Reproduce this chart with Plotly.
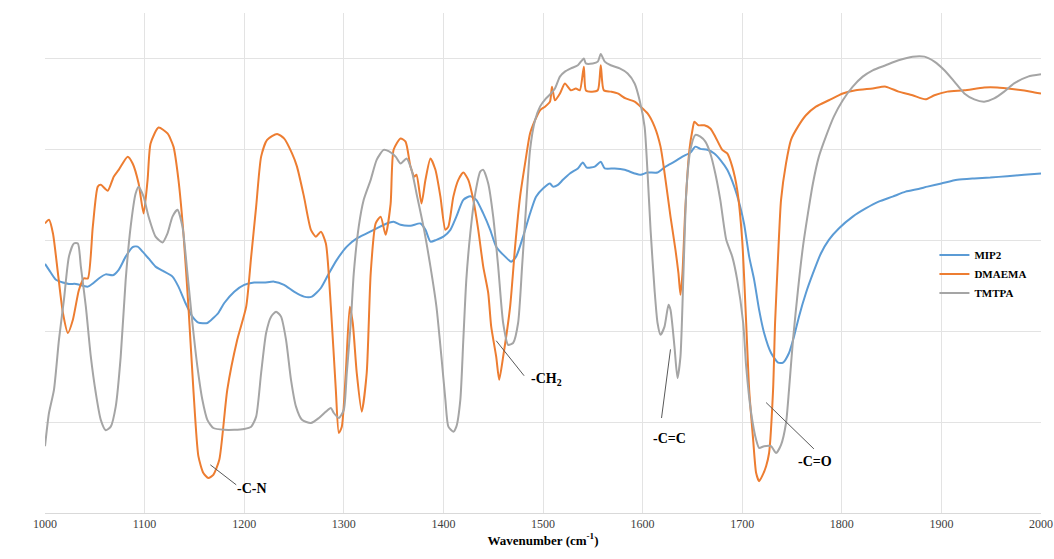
import plotly.graph_objects as go

# FTIR spectra (wavenumber in cm-1, transmittance in arbitrary %T units)
mip2_x = [1000, 1004, 1011, 1018, 1024, 1031, 1038, 1043, 1048, 1054, 1061, 1068, 1074, 1081, 1088,
          1093, 1098, 1104, 1111, 1118, 1128, 1134, 1141, 1148, 1154, 1163, 1169, 1174, 1180, 1190,
          1200, 1210, 1220, 1230, 1240, 1250, 1260, 1268, 1277, 1285, 1293, 1303, 1313, 1323, 1333,
          1343, 1350, 1357, 1367, 1377, 1382, 1387, 1393, 1400, 1407, 1413, 1420, 1427, 1433, 1440,
          1447, 1453, 1462, 1468, 1473, 1480, 1487, 1493, 1500, 1507, 1510, 1515, 1520, 1527, 1535,
          1540, 1544, 1552, 1558, 1562, 1572, 1582, 1592, 1598, 1605, 1615, 1623, 1632, 1640, 1648,
          1653, 1658, 1665, 1672, 1678, 1685, 1692, 1698, 1702, 1707, 1712, 1717, 1722, 1729, 1736,
          1741, 1747, 1752, 1757, 1764, 1771, 1779, 1787, 1797, 1811, 1824, 1837, 1851, 1864, 1877,
          1886, 1900, 1916, 1933, 1949, 1966, 1983, 2000]
mip2_y = [54.8, 53.5, 51.3, 50.7, 50.4, 50.4, 50.0, 49.8, 50.5, 51.6, 52.5, 52.3, 53.5, 56.4, 58.5,
          58.6, 57.5, 56.0, 54.2, 53.3, 52.0, 49.8, 46.2, 43.2, 41.9, 41.8, 42.9, 44.0, 46.2, 48.7,
          50.2, 50.7, 50.7, 50.9, 50.2, 48.7, 47.6, 47.6, 49.5, 52.7, 55.7, 58.6, 60.4, 61.5, 62.6,
          63.7, 64.1, 63.4, 63.2, 63.7, 62.3, 59.7, 60.1, 60.8, 62.3, 65.2, 68.9, 69.7, 68.9, 65.9,
          62.3, 58.6, 56.4, 55.3, 56.4, 60.8, 65.9, 69.6, 71.4, 72.5, 71.8, 72.2, 73.3, 74.7, 75.8,
          77.1, 76.0, 76.2, 77.3, 75.8, 75.8, 75.5, 74.7, 74.4, 74.9, 74.9, 76.2, 77.3, 78.4, 79.3,
          80.6, 80.1, 79.9, 79.1, 77.7, 75.5, 71.8, 67.4, 63.5, 56.4, 51.3, 44.7, 39.6, 35.2, 33.1,
          33.1, 35.2, 38.8, 43.2, 48.4, 52.7, 57.1, 60.1, 62.6, 65.2, 67.0, 68.5, 69.6, 70.7, 71.3,
          71.8, 72.5, 73.3, 73.6, 73.8, 74.1, 74.4, 74.7]

dmaema_x = [1000, 1004, 1008, 1013, 1018, 1023, 1028, 1034, 1039, 1043, 1048, 1053, 1056, 1063, 1069,
            1074, 1083, 1088, 1094, 1099, 1103, 1106, 1114, 1123, 1129, 1134, 1139, 1144, 1149, 1154,
            1159, 1164, 1169, 1175, 1183, 1193, 1202, 1207, 1212, 1217, 1223, 1233, 1240, 1248, 1253,
            1260, 1267, 1272, 1277, 1282, 1287, 1292, 1295, 1298, 1302, 1306, 1309, 1313, 1318, 1323,
            1327, 1332, 1337, 1342, 1347, 1350, 1357, 1362, 1367, 1371, 1373, 1378, 1382, 1387, 1392,
            1397, 1402, 1405, 1410, 1415, 1420, 1425, 1430, 1435, 1440, 1445, 1448, 1453, 1456, 1460,
            1467, 1472, 1477, 1482, 1487, 1492, 1497, 1502, 1507, 1509, 1512, 1517, 1522, 1528, 1533,
            1537, 1541, 1543, 1548, 1555, 1558, 1561, 1568, 1575, 1583, 1592, 1598, 1605, 1612, 1618,
            1623, 1628, 1633, 1636, 1638, 1640, 1643, 1647, 1650, 1652, 1656, 1662, 1668, 1673, 1680,
            1685, 1690, 1695, 1700, 1704, 1707, 1711, 1714, 1717, 1720, 1724, 1727, 1731, 1733, 1736,
            1739, 1744, 1749, 1756, 1764, 1774, 1787, 1801, 1814, 1831, 1844, 1857, 1871, 1884, 1893,
            1906, 1923, 1943, 1956, 1973, 1990, 2000]
dmaema_y = [63.7, 64.5, 61.5, 52.7, 44.0, 39.6, 42.5, 49.0, 51.6, 51.6, 63.0, 71.8, 72.2, 70.9, 74.0,
            75.5, 78.4, 76.9, 72.5, 65.9, 73.3, 81.3, 84.8, 83.5, 80.6, 73.3, 61.5, 45.4, 27.1, 12.5,
            8.8, 7.7, 8.4, 11.7, 27.1, 38.1, 45.4, 56.4, 67.4, 78.4, 82.1, 83.4, 82.4, 79.1, 76.2,
            69.6, 62.3, 60.8, 61.9, 59.3, 45.4, 27.1, 17.6, 19.0, 30.8, 45.4, 41.8, 30.8, 22.3, 30.8,
            52.7, 63.7, 65.2, 61.2, 68.0, 79.9, 82.4, 81.7, 76.2, 74.0, 74.4, 68.1, 73.3, 78.0, 75.5,
            69.6, 62.3, 63.0, 69.6, 73.3, 74.9, 73.3, 68.9, 62.3, 54.2, 48.4, 41.0, 34.4, 29.3, 34.4,
            45.4, 58.6, 69.6, 76.9, 83.5, 86.4, 88.6, 89.4, 90.5, 93.8, 90.8, 92.3, 94.5, 93.0, 93.4,
            93.0, 98.2, 93.0, 92.7, 93.0, 98.5, 93.0, 92.7, 92.3, 91.2, 90.5, 89.4, 87.9, 85.0, 80.6,
            73.3, 65.2, 57.9, 52.7, 48.0, 52.7, 67.4, 79.9, 84.2, 86.1, 85.3, 85.3, 84.6, 82.8, 79.9,
            79.1, 76.2, 71.1, 60.0, 41.8, 27.1, 16.1, 8.8, 7.0, 8.1, 10.3, 13.2, 27.1, 41.8, 56.4,
            68.9, 76.9, 82.1, 85.0, 87.5, 89.4, 90.8, 92.3, 93.0, 93.4, 93.8, 92.7, 91.9, 91.0, 91.9,
            92.7, 93.0, 93.6, 93.6, 93.2, 92.7, 92.3]

tmtpa_x = [1000, 1004, 1009, 1014, 1019, 1024, 1029, 1033, 1036, 1041, 1046, 1051, 1056, 1061, 1066,
           1071, 1076, 1081, 1086, 1091, 1094, 1099, 1104, 1111, 1118, 1123, 1128, 1133, 1138, 1143,
           1148, 1153, 1158, 1163, 1169, 1180, 1190, 1200, 1207, 1212, 1217, 1222, 1227, 1232, 1237,
           1242, 1247, 1252, 1258, 1267, 1275, 1282, 1287, 1290, 1295, 1300, 1303, 1307, 1310, 1315,
           1320, 1327, 1333, 1340, 1345, 1352, 1357, 1363, 1368, 1373, 1380, 1387, 1393, 1398, 1402,
           1405, 1410, 1413, 1417, 1420, 1423, 1427, 1432, 1437, 1440, 1445, 1450, 1455, 1460, 1465,
           1470, 1475, 1479, 1483, 1487, 1492, 1497, 1503, 1508, 1512, 1517, 1522, 1528, 1535, 1541,
           1543, 1550, 1555, 1558, 1562, 1568, 1577, 1585, 1592, 1597, 1602, 1605, 1608, 1612, 1615,
           1618, 1622, 1626, 1628, 1632, 1635, 1638, 1641, 1644, 1648, 1653, 1658, 1663, 1668, 1673,
           1678, 1684, 1690, 1695, 1701, 1704, 1709, 1714, 1717, 1722, 1729, 1734, 1739, 1744, 1747,
           1751, 1756, 1761, 1766, 1771, 1777, 1784, 1792, 1801, 1811, 1821, 1831, 1844, 1857, 1871,
           1883, 1893, 1903, 1913, 1923, 1933, 1943, 1953, 1963, 1973, 1987, 2000]
tmtpa_y = [14.7, 22.0, 27.1, 38.1, 46.9, 56.4, 59.3, 59.3, 54.2, 45.4, 34.4, 26.4, 20.5, 18.2, 19.0,
           23.4, 34.4, 51.3, 63.0, 70.3, 71.8, 69.6, 65.2, 60.8, 59.5, 61.5, 65.2, 66.7, 63.0, 52.7,
           41.8, 32.2, 24.9, 20.5, 18.7, 18.3, 18.3, 18.5, 19.0, 21.2, 30.8, 39.6, 43.2, 44.3, 43.2,
           38.1, 29.3, 23.4, 20.5, 19.8, 20.9, 22.3, 23.1, 22.0, 20.9, 22.7, 30.8, 41.8, 52.7, 63.0,
           68.9, 73.3, 77.7, 79.9, 79.6, 78.4, 76.9, 78.0, 75.5, 70.3, 63.0, 54.2, 45.4, 34.4, 24.9,
           19.0, 17.9, 19.0, 24.9, 38.1, 51.3, 61.5, 70.3, 75.1, 75.5, 72.5, 65.2, 54.2, 41.8, 37.0,
           37.4, 41.8, 54.2, 67.4, 79.9, 86.4, 89.4, 91.2, 92.3, 93.4, 96.0, 97.1, 97.8, 98.5, 100.0,
           98.9, 98.9, 99.3, 101.0, 99.3, 98.5, 97.8, 96.7, 94.5, 90.8, 85.0, 74.7, 62.3, 49.1, 41.8,
           39.2, 41.0, 45.8, 44.7, 36.6, 29.7, 34.4, 52.7, 71.1, 79.9, 83.2, 82.8, 81.7, 79.1, 74.7,
           68.9, 60.1, 56.4, 51.3, 41.8, 32.2, 22.0, 16.1, 14.3, 14.7, 14.7, 13.2, 15.0, 19.8, 27.1,
           38.1, 49.1, 58.6, 65.9, 72.5, 78.4, 82.8, 87.2, 90.8, 93.8, 96.0, 97.4, 98.5, 99.6, 100.4,
           100.4, 99.3, 97.4, 94.9, 92.3, 91.0, 90.5, 91.2, 92.7, 94.5, 96.0, 96.5]

series_names = ["MIP2", "DMAEMA", "TMTPA"]
series_colors = ["#5B9BD5", "#ED7D31", "#A5A5A5"]

# Band assignments: label, text position, leader line (from -> to)
band_labels = ["-C-N", "-CH<sub>2</sub>", "-C=C", "-C=O"]
band_text_x = [1208, 1504, 1627, 1773]
band_text_y = [5.5, 29.3, 16.3, 11.3]
band_line_x0 = [1166, 1453, 1628, 1724]
band_line_y0 = [10.6, 37.9, 36.0, 24.3]
band_line_x1 = [1192, 1481, 1619, 1772]
band_line_y1 = [6.2, 30.2, 20.9, 14.1]

serif = "Liberation Serif, Times New Roman, serif"

fig = go.Figure()
for name, xs, ys, color in zip(series_names, [mip2_x, dmaema_x, tmtpa_x],
                               [mip2_y, dmaema_y, tmtpa_y], series_colors):
    fig.add_trace(go.Scatter(
        x=xs, y=ys, name=name, mode="lines",
        line=dict(color=color, width=2, shape="spline", smoothing=0.6),
    ))

for x0, y0, x1, y1 in zip(band_line_x0, band_line_y0, band_line_x1, band_line_y1):
    fig.add_shape(type="line", x0=x0, y0=y0, x1=x1, y1=y1, xref="x", yref="y",
                  line=dict(color="#595959", width=1))

for label, tx, ty in zip(band_labels, band_text_x, band_text_y):
    fig.add_annotation(x=tx, y=ty, text=label, showarrow=False, xref="x", yref="y",
                       font=dict(family=serif, size=14, color="#000000", weight="bold"))

fig.update_layout(
    width=1054, height=559,
    margin=dict(l=45, r=13, t=13, b=46, autoexpand=False),
    paper_bgcolor="white", plot_bgcolor="white",
    showlegend=True,
    legend=dict(x=0.893, y=0.545, xanchor="left", yanchor="top",
                bgcolor="rgba(0,0,0,0)", tracegroupgap=0,
                font=dict(family=serif, size=11, color="#000000", weight="bold")),
    xaxis=dict(range=[1000, 2000], dtick=100, tick0=1000, automargin=False,
               showgrid=True, gridcolor="#E3E3E3", gridwidth=1,
               showline=True, linecolor="#D9D9D9", zeroline=False,
               ticks="", tickfont=dict(family=serif, size=12, color="#404040"),
               title=dict(text="Wavenumber (cm<sup>-1</sup>)", standoff=4,
                          font=dict(family=serif, size=13, color="#000000", weight="bold"))),
    yaxis=dict(range=[0, 110], dtick=20, tick0=0, automargin=False,
               showgrid=True, gridcolor="#E3E3E3", gridwidth=1,
               showticklabels=False, zeroline=False, showline=False, ticks=""),
)

fig.write_html("out.html")
